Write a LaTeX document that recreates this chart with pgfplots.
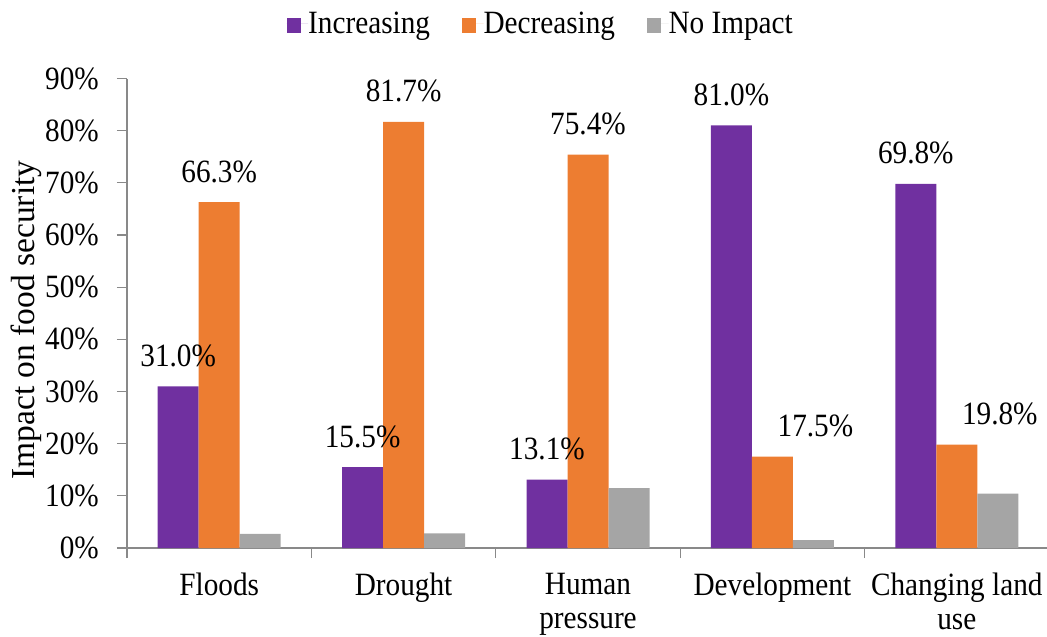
\documentclass[border=0pt]{standalone}
\usepackage{fontspec}
\setmainfont{Liberation Serif}[FakeStretch=0.9]
\newfontfamily\ylabfont{Liberation Serif}
\usepackage{pgfplots}
\usepackage{pgfplotstable}
\pgfplotsset{compat=1.18}

\definecolor{cInc}{HTML}{7030A0}
\definecolor{cDec}{HTML}{ED7D31}
\definecolor{cNo}{HTML}{A5A5A5}
\definecolor{axisgray}{HTML}{898989}

% x: category index, y: share in percent, dx: horizontal label offset
\pgfplotstableread{
x y dx
0 31.0 0
1 15.5 0
2 13.1 0
3 81.0 0
4 69.8 0
}\incr
\pgfplotstableread{
x y dx
0 66.3 0
1 81.7 0
2 75.4 0
3 17.5 43
4 19.8 43
}\decr
\pgfplotstableread{
x y
0 2.7
1 2.8
2 11.5
3 1.5
4 10.4
}\noimp

\newcommand{\chartfont}{\fontsize{32.5}{37}\selectfont}

\begin{document}
\begin{tikzpicture}
\begin{axis}[
  /pgf/number format/assume math mode=true,
  at={(0,0)}, anchor=south west,
  scale only axis, width=922pt, height=469.5pt,
  xmin=-0.5, xmax=4.5, ymin=0, ymax=90,
  ybar=0pt, bar width=41pt,
  axis x line*=bottom, axis y line*=left,
  axis line style={draw=axisgray, line width=1.2pt},
  tick align=outside,
  major tick length=10pt, minor tick length=10pt,
  tick style={draw=axisgray, line width=1.2pt},
  ytick={0,10,...,90},
  yticklabel={\pgfmathprintnumber{\tick}\%},
  yticklabel style={font=\chartfont, anchor=east, inner sep=0pt, xshift=-18pt},
  xtick={0,1,2,3,4},
  xticklabels={Floods, Drought, {Human\\pressure}, Development, {Changing land\\use}},
  x tick style={draw=none},
  minor xtick={-0.5,0.5,1.5,2.5,3.5,4.5},
  minor x tick style={draw=axisgray, line width=1.2pt},
  xticklabel style={font=\fontsize{32.5}{34}\selectfont, align=center, anchor=north, inner sep=0pt, yshift=-15pt},
  ylabel={\ylabfont\fontsize{33.5}{37}\selectfont Impact on food security},
  every axis y label/.style={at={(axis description cs:-0.0998,0.4856)}, rotate=90, anchor=base},
  legend columns=-1,
  legend style={at={(axis description cs:0.1732,1.1416)}, anchor=north west,
    draw=none, fill=none, inner sep=0pt, outer sep=0pt,
    font=\chartfont,
    nodes={inner sep=0pt},
    /tikz/every even column/.append style={column sep=32pt}},
  clip=false,
]
\addplot[fill=cInc, draw=none,
  legend image code/.code={\fill[cInc] (0pt,-9pt) rectangle (14pt,6pt); \path (0pt,0pt) -- (21.5pt,0pt);},
  nodes near coords={\pgfmathprintnumber[fixed,fixed zerofill,precision=1]{\pgfplotspointmeta}\%},
  visualization depends on={\thisrow{dx} \as \dx},
  every node near coord/.append style={font=\chartfont, text=black, anchor=base, inner sep=0pt, yshift=20pt, xshift=\dx pt}]
  table[x=x, y=y] {\incr};
\addplot[fill=cDec, draw=none,
  legend image code/.code={\fill[cDec] (0pt,-9pt) rectangle (14pt,6pt); \path (0pt,0pt) -- (21.5pt,0pt);},
  nodes near coords={\pgfmathprintnumber[fixed,fixed zerofill,precision=1]{\pgfplotspointmeta}\%},
  visualization depends on={\thisrow{dx} \as \dx},
  every node near coord/.append style={font=\chartfont, text=black, anchor=base, inner sep=0pt, yshift=20pt, xshift=\dx pt}]
  table[x=x, y=y] {\decr};
\addplot[fill=cNo, draw=none,
  legend image code/.code={\fill[cNo] (0pt,-9pt) rectangle (14pt,6pt); \path (0pt,0pt) -- (21.5pt,0pt);}]
  table[x=x, y=y] {\noimp};
\legend{Increasing, Decreasing, No Impact}
\end{axis}
\pgfresetboundingbox
\path[use as bounding box] (-127pt,-89pt) rectangle (920pt,548pt);
\end{tikzpicture}
\end{document}
